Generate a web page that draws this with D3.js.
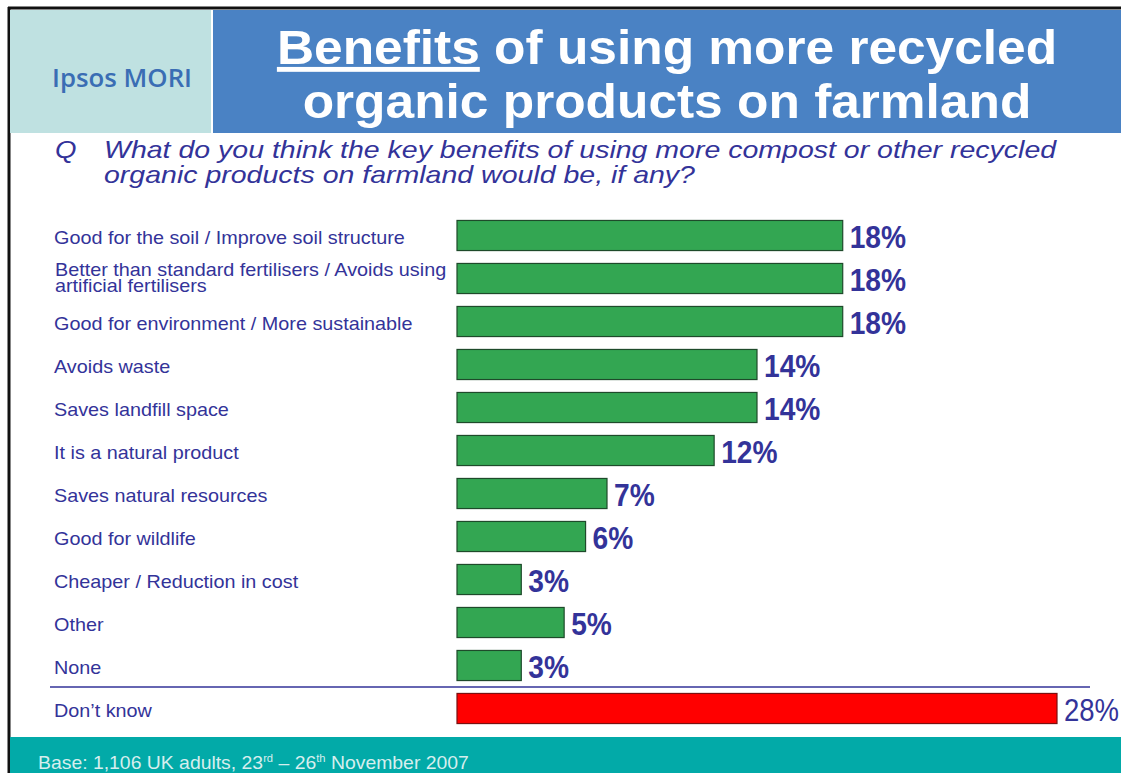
<!DOCTYPE html>
<html>
<head>
<meta charset="utf-8">
<script src="https://cdn.jsdelivr.net/npm/d3@7"></script>
<style>
  html, body { margin: 0; padding: 0; background: #fff; }
  svg { display: block; }
</style>
</head>
<body>
<svg id="chart" width="1121" height="773"></svg>
<script>
// Survey answers and shares (%)
const categories = [
  ["Good for the soil / Improve soil structure"],
  ["Better than standard fertilisers / Avoids using", "artificial fertilisers"],
  ["Good for environment / More sustainable"],
  ["Avoids waste"],
  ["Saves landfill space"],
  ["It is a natural product"],
  ["Saves natural resources"],
  ["Good for wildlife"],
  ["Cheaper / Reduction in cost"],
  ["Other"],
  ["None"],
  ["Don\u2019t know"]
];
const values = [18, 18, 18, 14, 14, 12, 7, 6, 3, 5, 3, 28];
const highlight = [false, false, false, false, false, false, false, false, false, false, false, true];

const titleLines = ["of using more recycled", "organic products on farmland"];
const questionLines = [
  "What do you think the key benefits of using more compost or other recycled",
  "organic products on farmland would be, if any?"
];

const svg = d3.select("#chart");
const ink = "#333399";
const sans = "'Liberation Sans', Arial, sans-serif";

// Text drawn with a horizontal stretch factor
function stretched(parent, x, y, sx) {
  return parent.append("text").attr("transform", `translate(${x},${y}) scale(${sx},1)`);
}

// Frame
svg.append("rect").attr("x", 0).attr("y", 0).attr("width", 1121).attr("height", 773).attr("fill", "#fff");
svg.append("line").attr("x1", 8).attr("x2", 1121).attr("y1", 8).attr("y2", 8).attr("stroke", "#111").attr("stroke-width", 3);
svg.append("line").attr("x1", 9).attr("x2", 9).attr("y1", 7).attr("y2", 773).attr("stroke", "#111").attr("stroke-width", 3);

// Header panels
svg.append("rect").attr("x", 10).attr("y", 10).attr("width", 201).attr("height", 123).attr("fill", "#bfe1e1");
svg.append("rect").attr("x", 213).attr("y", 10).attr("width", 908).attr("height", 123).attr("fill", "#4a82c4");

svg.append("text").attr("x", 52).attr("y", 87)
  .attr("font-family", "'Open Sans', 'DejaVu Sans', sans-serif").attr("font-weight", 600)
  .attr("font-size", 25).attr("fill", "#3a6db4").attr("textLength", 140).attr("lengthAdjust", "spacingAndGlyphs")
  .text("Ipsos MORI");

// Title
const titleG = svg.append("g").attr("font-family", sans).attr("font-weight", "bold")
  .attr("font-size", 49).attr("fill", "#fff").attr("text-anchor", "middle");
const t1 = stretched(titleG, 667, 64, 1.05);
t1.append("tspan").attr("text-decoration", "underline").text("Benefits");
t1.append("tspan").text(" " + titleLines[0]);
stretched(titleG, 667, 118, 1.05).text(titleLines[1]);

// Question
const q = svg.append("g").attr("font-family", sans).attr("font-style", "italic")
  .attr("font-size", 23).attr("fill", ink);
stretched(q, 55, 158, 1.2).text("Q");
questionLines.forEach((line, i) => {
  stretched(q, 104, 158 + i * 25, 1.24).text(line);
});

// Scales
const x = d3.scaleLinear().domain([0, 28]).range([457, 1057]);
const y = d3.scaleBand().domain(d3.range(values.length)).range([214, 730]).paddingInner(0.3).paddingOuter(0.15);

// Bars
svg.append("g").selectAll("rect").data(values).join("rect")
  .attr("x", x(0))
  .attr("y", (d, i) => y(i))
  .attr("width", d => x(d) - x(0))
  .attr("height", y.bandwidth())
  .attr("fill", (d, i) => highlight[i] ? "#ff0000" : "#33a652")
  .attr("stroke", (d, i) => highlight[i] ? "#7a1010" : "#1e4a2a")
  .attr("stroke-width", 1.2);

// Value labels
const valG = svg.append("g").attr("font-family", sans).attr("font-size", 32).attr("fill", ink);
values.forEach((v, i) => {
  stretched(valG, x(v) + 7, y(i) + y.bandwidth() / 2 + 12, highlight[i] ? 0.86 : 0.88)
    .attr("font-weight", highlight[i] ? "normal" : "bold")
    .text(v + "%");
});

// Category labels
const labels = svg.append("g").attr("font-family", sans).attr("font-size", 18).attr("fill", ink);
categories.forEach((lines, i) => {
  const cy = y(i) + y.bandwidth() / 2;
  if (lines.length === 1) {
    stretched(labels, 54, cy + 8, 1.1).text(lines[0]);
  } else {
    stretched(labels, 55, cy - 3, 1.1).text(lines[0]);
    stretched(labels, 55, cy + 13, 1.1).text(lines[1]);
  }
});

// Divider above "Don't know"
const divY = (y(10) + y.bandwidth() + y(11)) / 2;
svg.append("line").attr("x1", 50).attr("x2", 1090).attr("y1", divY).attr("y2", divY)
  .attr("stroke", "#333399").attr("stroke-width", 1.5);

// Footer
svg.append("rect").attr("x", 10).attr("y", 737).attr("width", 1111).attr("height", 36).attr("fill", "#02aaa8");
const foot = stretched(svg, 38, 769, 1.02)
  .attr("font-family", sans).attr("font-size", 19).attr("fill", "#d6eeee");
foot.append("tspan").text("Base: 1,106 UK adults, 23");
foot.append("tspan").attr("font-size", 11).attr("dy", -7).text("rd");
foot.append("tspan").attr("dy", 7).text(" \u2013 26");
foot.append("tspan").attr("font-size", 11).attr("dy", -7).text("th");
foot.append("tspan").attr("dy", 7).text(" November 2007");
</script>
</body>
</html>
